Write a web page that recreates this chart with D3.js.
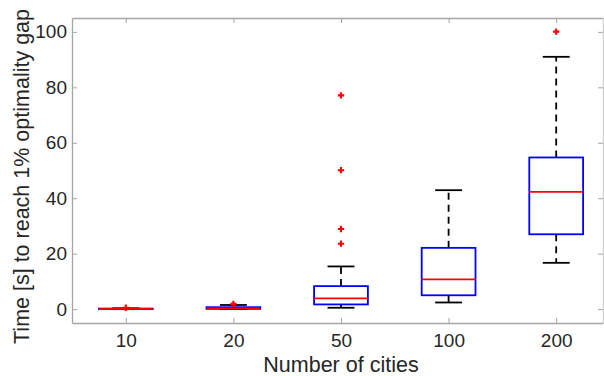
<!DOCTYPE html>
<html>
<head>
<meta charset="utf-8">
<script src="https://cdn.jsdelivr.net/npm/d3@7"></script>
<style>
  body { margin: 0; background: #fff; }
  svg { display: block; }
  text { font-family: "Liberation Sans", Arial, sans-serif; fill: #262626; }
</style>
</head>
<body>
<div id="chart"></div>
<script>
// chart data
var categories = ["10", "20", "50", "100", "200"];
var whiskerLow = [0, 0, 0.5, 2.4, 16.7];
var q1 = [0, 0.1, 1.7, 5.0, 27.0];
var median = [0.1, 0.3, 3.9, 10.7, 42.3];
var q3 = [0.2, 0.7, 8.3, 22.1, 54.7];
var whiskerHigh = [0.3, 1.5, 15.4, 42.9, 91.0];
var outliers = [[0.5], [1.9], [23.6, 28.9, 50.1, 77.1], [], [100.1]];
var yTicks = [0, 20, 40, 60, 80, 100];

var margin = {top: 18, right: 1, bottom: 53, left: 72},
    W = 604, H = 376,
    width = W - margin.left - margin.right,
    height = H - margin.top - margin.bottom;

var svg = d3.select("#chart").append("svg")
    .attr("width", W)
    .attr("height", H)
    .append("g")
    .attr("transform", "translate(" + margin.left + "," + margin.top + ")");

var x = d3.scaleLinear().domain([0.5, 5.435]).range([0, width]);
var y = d3.scaleLinear().domain([-5, 105]).range([height, 0]);

var boxes = categories.map(function (c, i) {
    return {pos: i + 1, lo: whiskerLow[i], q1: q1[i], med: median[i], q3: q3[i], hi: whiskerHigh[i], out: outliers[i]};
});

// axes
var xAxis = d3.axisBottom(x).tickValues([1, 2, 3, 4, 5])
    .tickFormat(function (d) { return categories[d - 1]; })
    .tickSizeInner(-5).tickSizeOuter(0).tickPadding(11);
var gx = svg.append("g").attr("transform", "translate(0," + height + ")").call(xAxis);

var gy = svg.append("g").call(d3.axisLeft(y).tickValues(yTicks)
    .tickSizeInner(-5).tickSizeOuter(0).tickPadding(5));

var gt = svg.append("g").call(d3.axisTop(x).tickValues([1, 2, 3, 4, 5])
    .tickFormat("").tickSizeInner(-5).tickSizeOuter(0));

var gr = svg.append("g").attr("transform", "translate(" + width + ",0)")
    .call(d3.axisRight(y).tickValues(yTicks).tickFormat("").tickSizeInner(-5).tickSizeOuter(0));

[gx, gy, gt, gr].forEach(function (g) {
    g.selectAll("path.domain").attr("stroke", "#a6a6a6").attr("stroke-width", 1.3);
    g.selectAll(".tick line").attr("stroke", "#a6a6a6").attr("stroke-width", 1);
    g.selectAll(".tick text").style("font-size", "19px").attr("fill", "#262626")
        .style("font-family", "'Liberation Sans', Arial, sans-serif");
});
gr.selectAll("path.domain").attr("stroke", "#d0d0d0");

var bw = x(1.25) - x(1);   // half box width
var cw = x(1.125) - x(1);  // half cap width

var g = svg.selectAll(".box").data(boxes).enter().append("g").attr("class", "box");

// dashed whiskers
g.append("line")
    .attr("x1", function (d) { return x(d.pos); })
    .attr("x2", function (d) { return x(d.pos); })
    .attr("y1", function (d) { return y(d.q3); })
    .attr("y2", function (d) { return y(d.hi); })
    .attr("stroke", "#000").attr("stroke-width", 1.8).attr("stroke-dasharray", "7,5");
g.append("line")
    .attr("x1", function (d) { return x(d.pos); })
    .attr("x2", function (d) { return x(d.pos); })
    .attr("y1", function (d) { return y(d.q1); })
    .attr("y2", function (d) { return y(d.lo); })
    .attr("stroke", "#000").attr("stroke-width", 1.8).attr("stroke-dasharray", "7,5");

// caps
["hi", "lo"].forEach(function (k) {
    g.append("line")
        .attr("x1", function (d) { return x(d.pos) - cw; })
        .attr("x2", function (d) { return x(d.pos) + cw; })
        .attr("y1", function (d) { return y(d[k]); })
        .attr("y2", function (d) { return y(d[k]); })
        .attr("stroke", "#000").attr("stroke-width", 1.8);
});

// box
g.append("rect")
    .attr("x", function (d) { return x(d.pos) - bw; })
    .attr("width", 2 * bw)
    .attr("y", function (d) { return y(d.q3); })
    .attr("height", function (d) { return y(d.q1) - y(d.q3); })
    .attr("fill", "none").attr("stroke", "#0000ff").attr("stroke-width", 1.8);

// median
g.append("line")
    .attr("x1", function (d) { return x(d.pos) - bw; })
    .attr("x2", function (d) { return x(d.pos) + bw; })
    .attr("y1", function (d) { return y(d.med); })
    .attr("y2", function (d) { return y(d.med); })
    .attr("stroke", "#ff0000").attr("stroke-width", 1.8);

// outliers as red plus signs
g.selectAll(".out").data(function (d) {
        return d.out.map(function (v) { return {pos: d.pos, v: v}; });
    }).enter().append("path")
    .attr("class", "out")
    .attr("d", d3.symbol(d3.symbolCross, 22))
    .attr("transform", function (d) { return "translate(" + x(d.pos) + "," + y(d.v) + ")"; })
    .attr("fill", "#ff0000");

// axis titles
svg.append("text")
    .attr("x", x(3))
    .attr("y", height + 49)
    .attr("text-anchor", "middle")
    .style("font-size", "21.5px")
    .text("Number of cities");

svg.append("text")
    .attr("transform", "translate(" + (-43) + "," + (y(50) + 6) + ") rotate(-90)")
    .attr("text-anchor", "middle")
    .style("font-size", "21.5px")
    .text("Time [s] to reach 1% optimality gap");
</script>
</body>
</html>
